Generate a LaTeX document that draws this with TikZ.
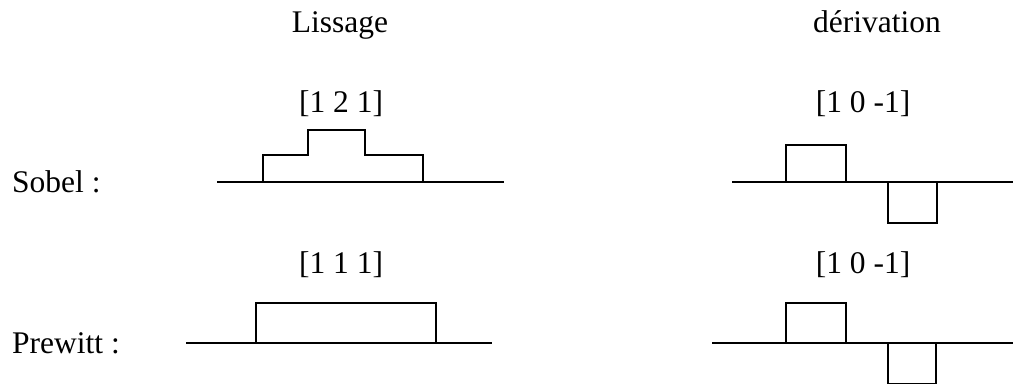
\documentclass[tikz,border=0pt]{standalone}
\usepackage{fontspec}
\setmainfont{Liberation Serif}
\begin{document}
\begin{tikzpicture}[x=1pt,y=-1pt,
  lbl/.style={inner sep=0pt,anchor=base,font=\fontsize{31.5}{36}\selectfont},
  lft/.style={lbl,anchor=base west},
  wave/.style={line width=1.4pt,line join=miter},
  thick wave/.style={line width=2pt,line join=miter}]
\useasboundingbox (0,0) rectangle (1013,385);
% titles
\node[lbl] (liss) at (340,33) {Lissage};
\node[lbl] (deriv) at (877,33) {dérivation};
\node[lbl] (k121) at (341,113) {[1 2 1]};
\node[lbl] (k10a) at (863,113) {[1 0 -1]};
\node[lbl] (k111) at (341,273) {[1 1 1]};
\node[lbl] (k10b) at (863,273) {[1 0 -1]};
\node[lft] (sobel) at (12,193) {Sobel :};
\node[lft] (prewitt) at (12,353) {Prewitt :};
% Sobel smoothing
\draw[wave] (217,182) -- (504,182);
\draw[thick wave] (217,182) -- (263,182) -- (263,155) -- (308,155) -- (308,130)
  -- (365,130) -- (365,155) -- (423,155) -- (423,182) -- (462,182);
% Sobel derivation
\draw[wave] (732,182) -- (1013,182);
\draw[wave] (786,182) -- (786,145) -- (846,145) -- (846,182);
\draw[wave] (888,182) -- (888,223) -- (937,223) -- (937,182);
% Prewitt smoothing
\draw[wave] (186,343) -- (492,343);
\draw[wave] (256,343) -- (256,303) -- (436,303) -- (436,343);
% Prewitt derivation
\draw[wave] (712,343) -- (1013,343);
\draw[wave] (786,343) -- (786,303) -- (846,303) -- (846,343);
\draw[wave] (888,343) -- (888,383.5) -- (936,383.5) -- (936,343);
\end{tikzpicture}
\end{document}
